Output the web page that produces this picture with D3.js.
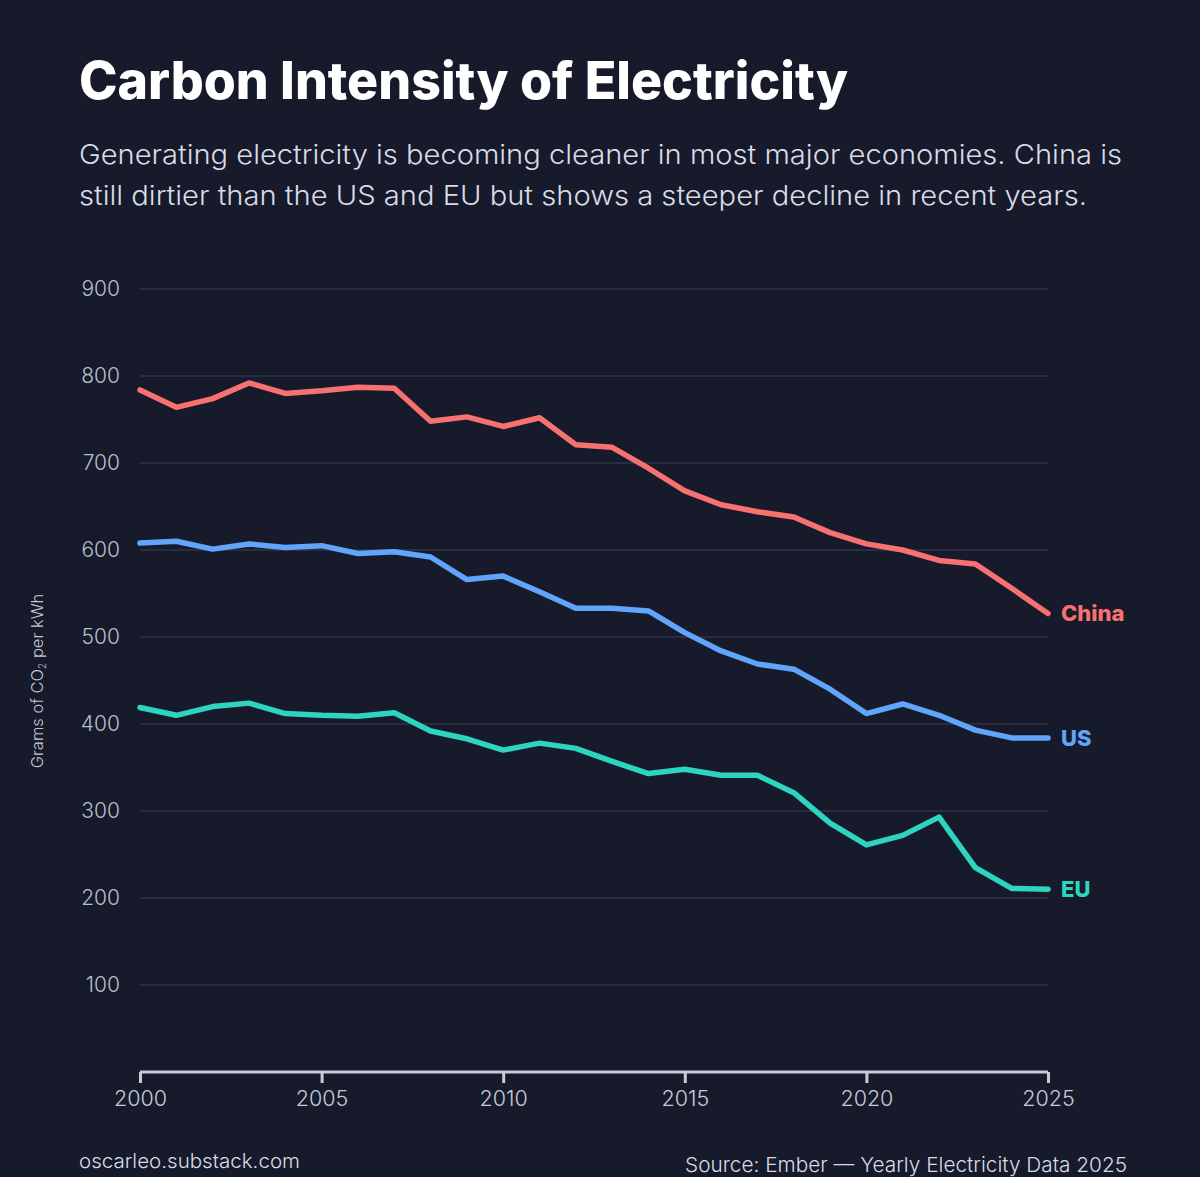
<!DOCTYPE html>
<html>
<head>
<meta charset="utf-8">
<script src="https://cdn.jsdelivr.net/npm/d3@7"></script>
<style>
  html, body { margin: 0; padding: 0; background: #161a2b; }
  svg { display: block; }
</style>
</head>
<body>
<div id="chart"></div>
<script>
// data
const years = d3.range(2000, 2026);
const china = [784, 764, 774, 792, 780, 783, 787, 786, 748, 753, 742, 752, 721,
  718, 694, 668, 652, 644, 638, 620, 607, 600, 588, 584, 556, 527];
const us = [608, 610, 601, 607, 603, 605, 596, 598, 592, 566, 570, 552, 533,
  533, 530, 505, 484, 469, 463, 440, 412, 423, 410, 393, 384, 384];
const eu = [419, 410, 420, 424, 412, 410, 409, 413, 392, 383, 370, 378, 372,
  357, 343, 348, 341, 341, 321, 286, 261, 272, 293, 235, 211, 210];
const yTicks = [100, 200, 300, 400, 500, 600, 700, 800, 900];
const xTicks = [2000, 2005, 2010, 2015, 2020, 2025];

const seriesList = [
  { name: "China", values: china, color: "#f87171" },
  { name: "US", values: us, color: "#60a5fa" },
  { name: "EU", values: eu, color: "#2dd4bf" },
];

const W = 1200, H = 1177;
const font = "Inter, 'Noto Sans', sans-serif";

const svg = d3.select("#chart").append("svg")
  .attr("width", W).attr("height", H);

svg.append("rect").attr("width", W).attr("height", H).attr("fill", "#161a2b");

// title + subtitle
svg.append("text")
  .attr("x", 79).attr("y", 99)
  .attr("font-family", font).attr("font-weight", 800)
  .attr("font-size", 52).attr("fill", "#ffffff")
  .attr("textLength", 769).attr("lengthAdjust", "spacingAndGlyphs")
  .text("Carbon Intensity of Electricity");

const subLines = [
  { t: "Generating electricity is becoming cleaner in most major economies. China is", w: 1043 },
  { t: "still dirtier than the US and EU but shows a steeper decline in recent years.", w: 1008 },
];
svg.append("g").selectAll("text").data(subLines).join("text")
  .attr("x", 79).attr("y", (d, i) => 164 + i * 41)
  .attr("font-family", font).attr("font-weight", 300)
  .attr("font-size", 27).attr("fill", "#d9dce6")
  .attr("textLength", (d) => d.w).attr("lengthAdjust", "spacingAndGlyphs")
  .text((d) => d.t);

// scales
const x = d3.scaleLinear().domain([2000, 2025]).range([140, 1048]);
const y = d3.scaleLinear().domain([0, 900]).range([1072, 289]);

// grid
svg.append("g").selectAll("line").data(yTicks).join("line")
  .attr("x1", 140).attr("x2", 1048)
  .attr("y1", (d) => y(d)).attr("y2", (d) => y(d))
  .attr("stroke", "#2f3447").attr("stroke-width", 1.5);

// y tick labels
svg.append("g").selectAll("text").data(yTicks).join("text")
  .attr("x", 120).attr("y", (d) => y(d))
  .attr("dy", "0.35em").attr("text-anchor", "end")
  .attr("font-family", font).attr("font-weight", 300).attr("font-size", 21)
  .attr("fill", "#b9bed0")
  .text((d) => d);

// y axis title
const yTitle = svg.append("text")
  .attr("transform", "translate(43, 681) rotate(-90)")
  .attr("text-anchor", "middle")
  .attr("font-family", font).attr("font-weight", 300).attr("font-size", 16.5)
  .attr("fill", "#c3c7d4");
yTitle.append("tspan").text("Grams of CO");
yTitle.append("tspan").attr("font-size", 10).attr("dy", 3).text("2");
yTitle.append("tspan").attr("dy", -3).text(" per kWh");

// x axis
const xAxis = svg.append("g")
  .attr("transform", `translate(0, 1072)`)
  .call(d3.axisBottom(x).tickValues(xTicks).tickFormat(d3.format("d"))
    .tickSize(11).tickPadding(8));
xAxis.select(".domain").attr("stroke", "#c8ccd9").attr("stroke-width", 3)
  .attr("d", "M140,0H1048");
xAxis.selectAll(".tick line").attr("stroke", "#c8ccd9").attr("stroke-width", 3);
xAxis.selectAll(".tick text")
  .attr("font-family", font).attr("font-weight", 300).attr("font-size", 21.5)
  .attr("fill", "#c8ccd9");

// lines
const line = d3.line()
  .x((d, i) => x(years[i]))
  .y((d) => y(d));

svg.append("g").selectAll("path").data(seriesList).join("path")
  .attr("d", (d) => line(d.values))
  .attr("fill", "none")
  .attr("stroke", (d) => d.color)
  .attr("stroke-width", 5.5)
  .attr("stroke-linejoin", "round")
  .attr("stroke-linecap", "round");

// end labels
svg.append("g").selectAll("text").data(seriesList).join("text")
  .attr("x", x(2025) + 13)
  .attr("y", (d) => y(d.values[d.values.length - 1]))
  .attr("dy", "0.35em")
  .attr("font-family", font).attr("font-weight", 800)
  .attr("font-size", 22)
  .attr("fill", (d) => d.color)
  .text((d) => d.name);

// footer
svg.append("text")
  .attr("x", 79).attr("y", 1168)
  .attr("font-family", font).attr("font-weight", 300).attr("font-size", 20)
  .attr("fill", "#d9dce6")
  .attr("textLength", 221).attr("lengthAdjust", "spacingAndGlyphs")
  .text("oscarleo.substack.com");

svg.append("text")
  .attr("x", 685).attr("y", 1172)
  .attr("font-family", font).attr("font-weight", 300).attr("font-size", 20.5)
  .attr("fill", "#d9dce6")
  .attr("textLength", 442).attr("lengthAdjust", "spacingAndGlyphs")
  .text("Source: Ember — Yearly Electricity Data 2025");
</script>
</body>
</html>
